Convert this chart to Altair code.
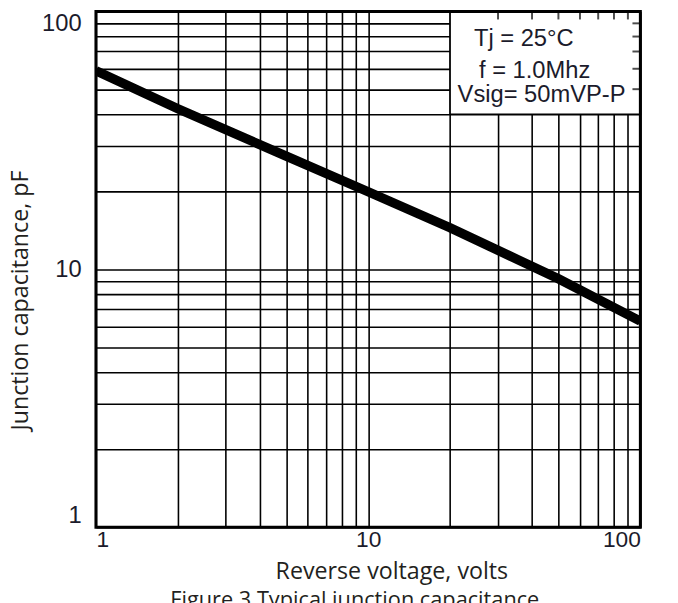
import altair as alt
import pandas as pd

# ---- data ----
voltage = [1, 2, 5, 10, 20, 50, 100]
capacitance = [59, 42, 27.5, 20, 14.5, 9.2, 6.3]

grid_values = [1, 2, 3, 4, 5, 6, 7, 8, 9, 10, 20, 30, 40, 50, 60, 70, 80, 90, 100]
labeled_values = [1, 10, 100]

box_x = [20, 100]
box_y = [40, 100]
top_ticks = [30, 40, 50, 60, 70, 80, 90]
right_ticks = [50, 60, 70, 80, 90]

note_lines = ["Tj = 25°C", "f = 1.0Mhz", "Vsig= 50mVP-P"]
x_title = "Reverse voltage, volts"
y_title = "Junction  capacitance, pF"
caption = "Figure 3 Typical junction capacitance"

# ---- tables ----
curve_df = pd.DataFrame({"v": voltage, "c": capacitance})
box_df = pd.DataFrame({"v": [box_x[0]], "v2": [box_x[1]], "c": [box_y[0]], "c2": [box_y[1]]})
frame_df = pd.DataFrame({"v": [1], "v2": [100], "c": [1], "c2": [100]})
top_df = pd.DataFrame({"v": top_ticks, "c": [box_y[1]] * len(top_ticks)})
right_df = pd.DataFrame({"v": [box_x[1]] * len(right_ticks), "c": right_ticks})

xscale = alt.Scale(type="log", domain=[1, 100], nice=False)
yscale = alt.Scale(type="log", domain=[1, 100], nice=False)

label_expr = "indexof([1, 10, 100], datum.value) >= 0 ? format(datum.value, 'd') : ''"

x_axis = alt.Axis(
    values=grid_values, grid=True, gridColor="black", gridWidth=1.6, gridOpacity=1,
    domain=False, ticks=False, labelExpr=label_expr, labelOverlap=False,
    labelFont="Liberation Sans", labelFontSize=23, labelColor="#1b1b2b", labelPadding=1,
    title=x_title, titleFont="Open Sans", titleFontSize=23.5, titleFontWeight="normal",
    titleColor="#231f20", titleX=299, titleY=45, titleBaseline="middle",
)
y_axis = alt.Axis(
    values=grid_values, grid=True, gridColor="black", gridWidth=1.6, gridOpacity=1,
    domain=False, ticks=False, labelExpr=label_expr, labelOverlap=False, labelFlush=True,
    labelFont="Liberation Sans", labelFontSize=24, labelColor="#1b1b2b", labelPadding=15,
    title=y_title, titleFont="Open Sans", titleFontSize=23.5, titleFontWeight="normal",
    titleColor="#231f20", titleAngle=-90, titleX=-76, titleY=292, titleBaseline="middle",
)


def X(field="v"):
    return alt.X(f"{field}:Q", scale=xscale, axis=x_axis)


def Y(field="c"):
    return alt.Y(f"{field}:Q", scale=yscale, axis=y_axis)


curve = alt.Chart(curve_df).mark_line(color="black", strokeWidth=9.5, clip=True).encode(
    x=X(), y=Y()
)

box = alt.Chart(box_df).mark_rect(fill="white", stroke="black", strokeWidth=1.6).encode(
    x=X(), x2="v2:Q", y=Y(), y2="c2:Q"
)

top_tick_marks = alt.Chart(top_df).mark_tick(
    orient="vertical", color="black", size=8, thickness=2, yOffset=4
).encode(x=X(), y=Y())

right_tick_marks = alt.Chart(right_df).mark_tick(
    orient="horizontal", color="black", size=8, thickness=2, xOffset=-4
).encode(x=X(), y=Y())

frame = alt.Chart(frame_df).mark_rect(fillOpacity=0, stroke="black", strokeWidth=3).encode(
    x=X(), x2="v2:Q", y=Y(), y2="c2:Q"
)

note_x = [433, 444, 451]
note_y = [35, 67, 92]
notes = [
    alt.Chart(pd.DataFrame({"t": [txt]})).mark_text(
        font="Liberation Sans", fontSize=24, align="center", baseline="alphabetic", color="#1b1b2b"
    ).encode(x=alt.value(nx), y=alt.value(ny), text="t:N")
    for txt, nx, ny in zip(note_lines, note_x, note_y)
]

cap = alt.Chart(pd.DataFrame({"t": [caption]})).mark_text(
    font="Open Sans", fontSize=22, align="center", baseline="alphabetic", color="#231f20"
).encode(x=alt.value(262), y=alt.value(603), text="t:N")

chart = alt.layer(curve, box, top_tick_marks, right_tick_marks, frame, *notes, cap).properties(
    width=551,
    height=522,
    autosize=alt.AutoSizeParams(type="none"),
    padding={"left": 89, "top": 0, "right": 30, "bottom": 73},
).configure_view(stroke=None).configure(background="white")

chart.save("out.html", embed_options={"renderer": "svg", "actions": False})
